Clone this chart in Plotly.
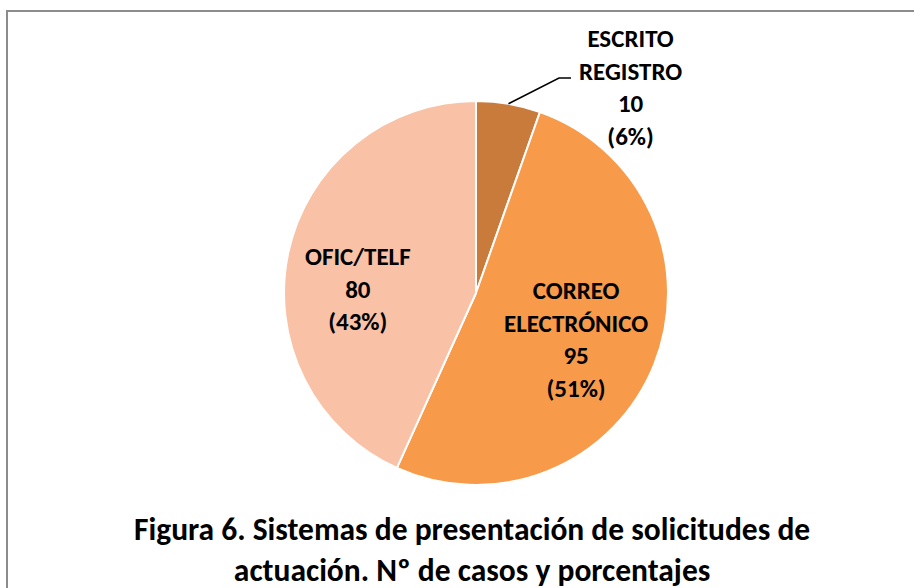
import math
import plotly.graph_objects as go

categories = ["ESCRITO<br>REGISTRO", "CORREO<br>ELECTRÓNICO", "OFIC/TELF"]
values = [10, 95, 80]
percent_labels = ["6%", "51%", "43%"]
colors = ["#C97B3C", "#F79A4A", "#F9C2A6"]
title_text = "Figura 6. Sistemas de presentación de solicitudes de<br>actuación. Nº de casos y porcentajes"

W, H = 914, 588
FONT = "Carlito, Calibri, Lato, sans-serif"

def px(x):
    return x / W

def py(y):
    return 1 - y / H

cx, cy, r = 476, 293, 192

fig = go.Figure()
fig.add_trace(go.Pie(
    labels=categories,
    values=values,
    sort=False,
    direction="clockwise",
    rotation=0,
    marker=dict(colors=colors, line=dict(color="white", width=2)),
    textinfo="none",
    hoverinfo="label+value+percent",
    showlegend=False,
    domain=dict(x=[px(cx - r), px(cx + r)], y=[py(cy + r), py(cy - r)]),
))

label_pos = [(630, 88), (576, 339), (358, 289)]
for cat, v, p, (lx, ly) in zip(categories, values, percent_labels, label_pos):
    fig.add_annotation(
        x=px(lx), y=py(ly), xref="paper", yref="paper",
        text=f"<b>{cat}<br>{v}<br>({p})</b>",
        showarrow=False, xanchor="center", yanchor="middle",
        font=dict(family=FONT, size=25, color="black"),
    )

# leader line for the small slice, from slice mid-angle on the edge
total = sum(values)
mid = values[0] / total / 2 * 2 * math.pi
ex = cx + r * math.sin(mid)
ey = cy - r * math.cos(mid)
fig.add_shape(type="path", xref="paper", yref="paper",
              path=f"M {px(ex)} {py(ey)} L {px(559)} {py(78)} L {px(571)} {py(78)}",
              line=dict(color="black", width=1.5))

# chart border
fig.add_shape(type="rect", xref="paper", yref="paper",
              x0=px(7), y0=py(600), x1=px(930), y1=py(11),
              line=dict(color="#8C8C8C", width=2))

fig.add_annotation(
    x=px(472), y=py(549), xref="paper", yref="paper",
    text=f"<b>{title_text}</b>", showarrow=False,
    xanchor="center", yanchor="middle",
    font=dict(family=FONT, size=31.5, color="black"),
)

fig.update_layout(
    width=W, height=H,
    margin=dict(l=0, r=0, t=0, b=0),
    paper_bgcolor="white", plot_bgcolor="white",
)

fig.write_html("out.html", config={"displayModeBar": False},
               post_script="document.body.style.margin='0';document.body.style.overflow='hidden';")
